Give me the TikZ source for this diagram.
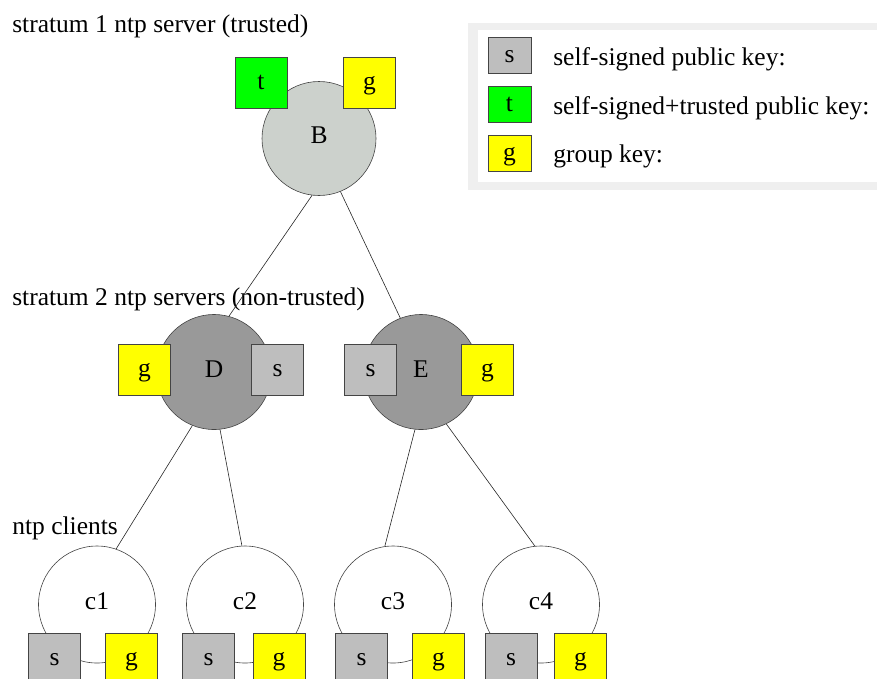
\documentclass[tikz,border=0pt]{standalone}
\usepackage{fontspec}
\setmainfont{Liberation Serif}
\usepackage{xcolor}
\usepackage{tikz}
\usetikzlibrary{calc, positioning}

\definecolor{serverB}{RGB}{204,209,204}
\definecolor{serverDE}{RGB}{153,153,153}
\definecolor{signedgray}{RGB}{190,190,190}
\definecolor{trustgreen}{RGB}{0,255,0}
\definecolor{groupyellow}{RGB}{255,255,0}
\definecolor{rim}{RGB}{68,68,68}
\definecolor{legendframe}{RGB}{239,239,239}

\begin{document}
\begin{tikzpicture}[x=1pt,y=-1pt,-,node distance=148pt,line width=0.6pt,
                    font=\fontsize{25.5}{30}\selectfont,
                    host/.style={circle,draw=rim,inner sep=0pt,text height=14pt,text depth=4pt},
                    key/.style={rectangle,draw=rim,inner sep=0pt,minimum width=52pt,minimum height=51pt,
                                text height=16pt,text depth=2pt},
                    skey/.style={key,fill=signedgray},
                    tkey/.style={key,fill=trustgreen},
                    gkey/.style={key,fill=groupyellow},
                    legend key/.style={minimum width=43pt,minimum height=36pt},
                    heading/.style={anchor=base west,inner sep=0pt}]

  \useasboundingbox (0,0) rectangle (877,678);

  \fill[legendframe] (468,23) rectangle (877,190);
  \fill[white] (478,30) rectangle (877,182);

  \node[heading] (h1) at (12,32) {stratum 1 ntp server (trusted)};
  \node[heading] (h2) at (12,305) {stratum 2 ntp servers (non-trusted)};
  \node[heading] (h3) at (12,534) {ntp clients};

  \node[host,fill=serverB,minimum size=114pt] (B) at (319,138.5) {B};
  \node[host,fill=serverDE,minimum size=115pt] (D) at (214,372) {D};
  \node[host,fill=serverDE,minimum size=115pt] (E) [node distance=207pt,right of=D] {E};
  \node[host,fill=white,minimum size=117pt] (c1) at (97,604.5) {c1};
  \node[host,fill=white,minimum size=117pt] (c2) [right of=c1] {c2};
  \node[host,fill=white,minimum size=117pt] (c3) [right of=c2] {c3};
  \node[host,fill=white,minimum size=117pt] (c4) [right of=c3] {c4};

  \node[tkey,shift={(-58,-56)}] (Bt) at (B) {t};
  \node[gkey,shift={(50.5,-56)}] (Bg) at (B) {g};
  \node[gkey,shift={(-69.5,-2.5)}] (Dg) at (D) {g};
  \node[skey,shift={(63.5,-2.5)}] (Ds) at (D) {s};
  \node[skey,shift={(-50.5,-2.5)}] (Es) at (E) {s};
  \node[gkey,shift={(66.5,-2.5)}] (Eg) at (E) {g};

  \node[skey,shift={(-42.5,54)}] (c1s) at (c1) {s};
  \node[gkey,shift={(34.5,54)}] (c1g) at (c1) {g};
  \node[skey,shift={(-36.5,54)}] (c2s) at (c2) {s};
  \node[gkey,shift={(34,54)}] (c2g) at (c2) {g};
  \node[skey,shift={(-31.5,54)}] (c3s) at (c3) {s};
  \node[gkey,shift={(45.5,54)}] (c3g) at (c3) {g};
  \node[skey,shift={(-30,54)}] (c4s) at (c4) {s};
  \node[gkey,shift={(39.5,54)}] (c4g) at (c4) {g};

  \path[black!85]
  (B.263) edge (D.75)
  (B.292) edge (E.111)
  (D.248) edge (c1.71)
  (D.276) edge (c2.93)
  (E.264) edge (c3.98)
  (E.296) edge (c4.96);

  \node[skey,legend key] (ls) at (509.5,55) {s};
  \node[tkey,legend key] (lt) at (509.5,104) {t};
  \node[gkey,legend key] (lg) at (509.5,153) {g};
  \node[heading] (lstext) at (553,65) {self-signed public key:};
  \node[heading] (lttext) at (553,114) {self-signed+trusted public key:};
  \node[heading] (lgtext) at (553,162) {group key:};

\end{tikzpicture}
\end{document}
